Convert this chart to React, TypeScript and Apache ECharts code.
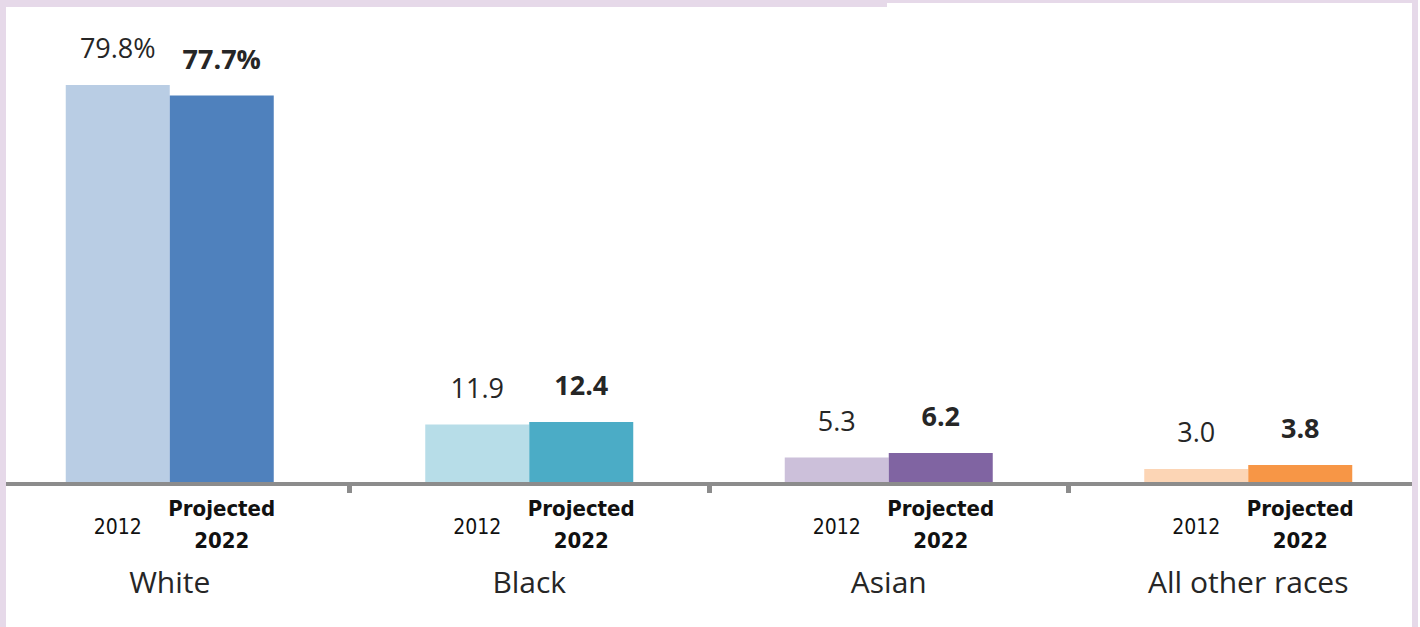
import React, { useEffect, useRef } from "react";
import * as echarts from "echarts";

const categories = ["White", "Black", "Asian", "All other races"];
const values2012 = [79.8, 11.9, 5.3, 3.0];
const values2022 = [77.7, 12.4, 6.2, 3.8];
const valueSuffix = ["%", "", "", ""];
const baseline = [0, 0, 0, 0];
const yearLabel2012 = "2012";
const yearLabel2022 = "Projected\n2022";
const colors2012 = ["#b9cde4", "#b7dde8", "#ccc0da", "#fcd5b5"];
const colors2022 = ["#4f81bd", "#4bacc6", "#8064a2", "#f79646"];

const FRAME = "#e6d9e9";
const TEXT = "#262626";
const AXIS = "#8c8c8c";
const NARROW = "'Liberation Sans Narrow', 'DejaVu Sans Condensed', 'Roboto Condensed', sans-serif";
const SANS = "'Open Sans', 'Noto Sans', sans-serif";
const OX = 10; // chart canvas starts 10px left of the page

export default function App() {
  const ref = useRef<HTMLDivElement>(null);
  useEffect(() => {
    if (!ref.current) return;
    const chart = echarts.init(ref.current, null, { renderer: "svg" });
    const fmt = (p: any) => p.value.toFixed(1) + valueSuffix[p.dataIndex];
    chart.setOption({
      animation: false,
      backgroundColor: "#ffffff",
      grid: { left: 0, width: 1438, top: 34, height: 450 },
      xAxis: {
        type: "category",
        data: categories,
        z: 5,
        axisLine: { lineStyle: { color: AXIS, width: 4 } },
        axisTick: { show: true, length: 9, interval: 0, lineStyle: { color: AXIS, width: 5 } },
        axisLabel: { margin: 82, fontSize: 30, color: TEXT, fontFamily: SANS, interval: 0 },
      },
      yAxis: {
        type: "value",
        min: 0,
        max: 90,
        show: false,
        splitLine: { show: false },
      },
      series: [
        {
          type: "bar",
          stack: "a",
          barWidth: 104,
          barGap: "0%",
          data: baseline,
          itemStyle: { color: "rgba(0,0,0,0)" },
          label: {
            show: true,
            position: "bottom",
            distance: 32,
            formatter: () => yearLabel2012,
            fontSize: 21,
            color: "#111",
            fontFamily: NARROW,
          },
        },
        {
          type: "bar",
          stack: "a",
          barWidth: 104,
          barGap: "0%",
          data: values2012.map((v, i) => ({ value: v, itemStyle: { color: colors2012[i] } })),
          label: {
            show: true,
            position: "top",
            distance: 24,
            formatter: fmt,
            fontSize: 27,
            color: TEXT,
            fontFamily: SANS,
          },
        },
        {
          type: "bar",
          stack: "b",
          barWidth: 104,
          barGap: "0%",
          data: baseline,
          itemStyle: { color: "rgba(0,0,0,0)" },
          label: {
            show: true,
            position: "bottom",
            distance: 8,
            formatter: () => yearLabel2022,
            fontSize: 22,
            lineHeight: 32,
            fontWeight: "bold",
            color: "#111",
            fontFamily: NARROW,
          },
        },
        {
          type: "bar",
          stack: "b",
          barWidth: 104,
          barGap: "0%",
          data: values2022.map((v, i) => ({ value: v, itemStyle: { color: colors2022[i] } })),
          label: {
            show: true,
            position: "top",
            distance: 24,
            formatter: fmt,
            fontSize: 27,
            fontWeight: "bold",
            color: TEXT,
            fontFamily: SANS,
          },
        },
      ],
      graphic: [
        { type: "rect", z: 100, shape: { x: 0, y: 0, width: OX, height: 627 }, style: { fill: "#ffffff" } },
        { type: "rect", z: 100, shape: { x: OX, y: 0, width: 6, height: 627 }, style: { fill: FRAME } },
        { type: "rect", z: 100, shape: { x: OX, y: 0, width: 887, height: 7 }, style: { fill: FRAME } },
        { type: "rect", z: 100, shape: { x: OX + 887, y: 0, width: 531, height: 3 }, style: { fill: FRAME } },
        { type: "rect", z: 100, shape: { x: OX + 1412, y: 0, width: 6, height: 627 }, style: { fill: FRAME } },
        { type: "rect", z: 100, shape: { x: OX + 1418, y: 0, width: 20, height: 627 }, style: { fill: "#ffffff" } },
      ],
    });
    return () => chart.dispose();
  }, []);
  return (
    <div style={{ position: "absolute", left: 0, top: 0, width: 1420, height: 627, overflow: "hidden" }}>
      <div
        ref={ref}
        style={{ position: "absolute", left: -OX, top: 0, width: 1440, height: 627 }}
      />
    </div>
  );
}
